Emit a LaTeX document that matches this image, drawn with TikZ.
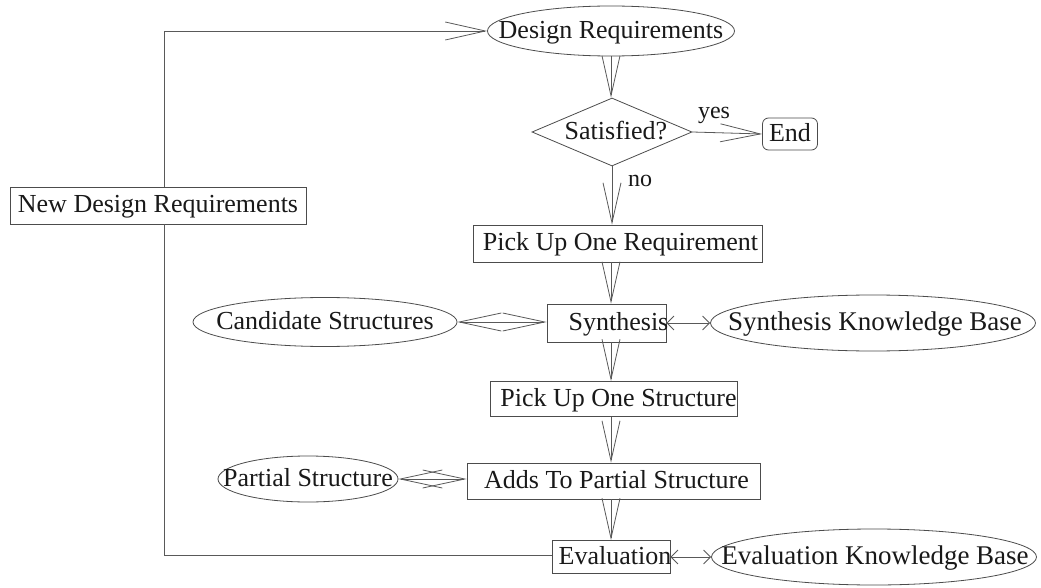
\documentclass[tikz,border=0pt]{standalone}
\usepackage{fontspec}
\setmainfont{Liberation Serif}
\usetikzlibrary{shapes.geometric,arrows.meta}
\newcommand\mytxt[2][0pt]{\makebox[0pt]{\kern#1 #2\kern-#1}}
\begin{document}
\begin{tikzpicture}[x=1pt,y=-1pt,
  shp/.style={draw=black!70, line width=0.8pt, inner sep=0pt, text=black!90,
    font=\fontsize{26}{30}\selectfont, text height=19pt, text depth=4pt},
  bx/.style={shp, rectangle, minimum width=#1, minimum height=37pt},
  rbx/.style={shp, rectangle, rounded corners=6pt, minimum width=#1, minimum height=32pt},
  ell/.style={shp, ellipse, minimum width=#1, minimum height=50pt},
  dia/.style={shp, diamond, minimum width=160pt, minimum height=68pt},
  kb/.style={font=\fontsize{27}{31}\selectfont},
  lab/.style={inner sep=0pt, text=black!90, font=\fontsize{24}{28}\selectfont},
  ln/.style={draw=black!65, line width=0.8pt},
  big/.style={ln, -{Straight Barb[length=40pt,width=18pt]}},
  bigboth/.style={ln, {Straight Barb[length=42pt,width=18pt]}-{Straight Barb[length=42pt,width=18pt]}},
  small/.style={ln, {Straight Barb[length=7pt,width=14pt]}-{Straight Barb[length=7pt,width=14pt]}}
]
\path[use as bounding box, fill=white] (0,0) rectangle (1041,588);

\node[ell=247pt] (dr) at (611,31) {\mytxt{Design Requirements}};
\node[dia] (sat) at (612,132) {\mytxt[4pt]{Satisfied?}};
\node[rbx=55pt] (end) at (790,134) {\mytxt{End}};
\node[bx=296pt] (ndr) at (158,205.5) {\mytxt{New Design Requirements}};
\node[bx=289pt] (preq) at (617.5,243.5) {\mytxt[3pt]{Pick Up One Requirement}};
\node[bx=119pt, minimum height=38pt] (syn) at (606.5,323) {\mytxt[12pt]{Synthesis}};
\node[ell=264pt, minimum height=49pt] (cand) at (325,322) {\mytxt{Candidate Structures}};
\node[ell=325pt, minimum height=56pt, kb] (skb) at (873,323) {\mytxt[2pt]{Synthesis Knowledge Base}};
\node[bx=247pt, minimum height=35pt] (pstr) at (613.5,399) {\mytxt[5pt]{Pick Up One Structure}};
\node[ell=180pt, minimum height=46pt] (part) at (308,479) {\mytxt{Partial Structure}};
\node[bx=293pt, minimum height=36pt] (adds) at (613.5,481) {\mytxt[3pt]{Adds To Partial Structure}};
\node[bx=118pt, minimum height=33pt] (eval) at (611,557) {\mytxt[4pt]{Evaluation}};
\node[ell=325pt, minimum height=56pt, kb] (ekb) at (874,557) {\mytxt[1pt]{Evaluation Knowledge Base}};

\node[lab] (yes) at (714,115) {yes};
\node[lab] (no) at (640,181) {no};

\coordinate (c1) at (164,30);
\coordinate (c2) at (164,555);

% main column
\draw[big] (dr.south) -- (dr.south |- sat.north);
\draw[big] (sat.east) -- (end.west);
\draw[big] (sat.south) -- (sat.south |- preq.north);
\draw[big] (dr.south |- preq.south) -- (dr.south |- syn.north);
\draw[big] (dr.south |- syn.south) -- (dr.south |- pstr.north);
\draw[big] (dr.south |- pstr.south) -- (dr.south |- adds.north);
\draw[big] (dr.south |- adds.south) -- (dr.south |- eval.north);

% side links
\draw[bigboth] (cand.east) -- (syn.west |- cand.east);
\draw[small] (syn.east) -- (skb.west);
\draw[bigboth] (part.east) -- (adds.west |- part.east);
\draw[small] (eval.east) -- (ekb.west);

% feedback loop
\draw[ln] (eval.west |- c2) -- (c2) -- (ndr.south -| c2);
\draw[big] (ndr.north -| c1) -- (c1 |- dr.west) -- (dr.west);
\end{tikzpicture}
\end{document}
